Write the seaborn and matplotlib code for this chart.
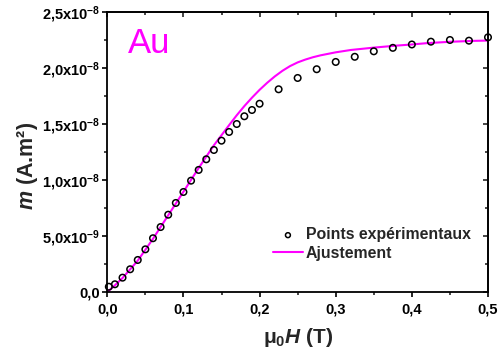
import numpy as np
import pandas as pd
import matplotlib
matplotlib.use('Agg')
import matplotlib.pyplot as plt
from matplotlib.ticker import FixedLocator, FixedFormatter, MultipleLocator
import seaborn as sns

# experimental points (mu0H in T, m in 1e-8 A.m2)
field_pts = [0.002, 0.01, 0.02, 0.03, 0.04, 0.05, 0.06, 0.07, 0.08, 0.09, 0.10,
             0.11, 0.12, 0.13, 0.14, 0.15, 0.16, 0.17, 0.18, 0.19, 0.20,
             0.225, 0.25, 0.275, 0.30, 0.325, 0.35, 0.375, 0.40, 0.425, 0.45, 0.475, 0.50]
moment_pts = [0.047, 0.069, 0.128, 0.203, 0.286, 0.381, 0.480, 0.580, 0.690, 0.795, 0.893,
              0.994, 1.090, 1.185, 1.268, 1.351, 1.429, 1.500, 1.569, 1.625, 1.681,
              1.810, 1.911, 1.989, 2.054, 2.100, 2.149, 2.180, 2.210, 2.235, 2.250, 2.244, 2.274]

# fitted curve
field_fit = [0.0, 0.01, 0.02, 0.04, 0.06, 0.08, 0.10, 0.12, 0.14, 0.16, 0.17, 0.18, 0.19,
             0.20, 0.21, 0.22, 0.23, 0.24, 0.25, 0.26, 0.27, 0.28, 0.30, 0.32, 0.35,
             0.38, 0.40, 0.42, 0.45, 0.48, 0.50]
moment_fit = [0.0, 0.06, 0.125, 0.28, 0.475, 0.685, 0.895, 1.107, 1.31, 1.49, 1.578, 1.66, 1.735,
              1.805, 1.868, 1.925, 1.975, 2.017, 2.050, 2.075, 2.096, 2.113, 2.140, 2.161, 2.182,
              2.200, 2.210, 2.222, 2.234, 2.242, 2.245]

x_ticks = [0.0, 0.1, 0.2, 0.3, 0.4, 0.5]
x_ticklabels = ['0,0', '0,1', '0,2', '0,3', '0,4', '0,5']
y_ticks = [0.0, 0.5e-8, 1.0e-8, 1.5e-8, 2.0e-8, 2.5e-8]
y_ticklabels = ['0,0', r'5,0x10$^{-9}$', r'1,0x10$^{-8}$', r'1,5x10$^{-8}$',
                r'2,0x10$^{-8}$', r'2,5x10$^{-8}$']

pts = pd.DataFrame({'H': field_pts, 'm': np.array(moment_pts) * 1e-8})
fit = pd.DataFrame({'H': field_fit, 'm': np.array(moment_fit) * 1e-8})

sns.set_style('ticks')
plt.rcParams['font.family'] = ['Liberation Sans', 'DejaVu Sans']
plt.rcParams['font.weight'] = 'bold'
plt.rcParams['mathtext.fontset'] = 'custom'
plt.rcParams['mathtext.rm'] = 'Liberation Sans:bold'
plt.rcParams['mathtext.it'] = 'Liberation Sans:bold:italic'
plt.rcParams['mathtext.bf'] = 'Liberation Sans:bold'

fig = plt.figure(figsize=(5.03, 3.61), dpi=100)
ax = fig.add_axes([107.3 / 503, 69 / 361, 380.7 / 503, 280 / 361])

sns.scatterplot(data=pts, x='H', y='m', ax=ax, marker='o', s=22, facecolor='none',
                edgecolor='black', linewidth=1.1, label='Points expérimentaux', zorder=3,
                clip_on=False)
sns.lineplot(data=fit, x='H', y='m', ax=ax, color='#ff00ff', linewidth=1.5,
             label='Ajustement', zorder=2)

ax.set_xlim(0, 0.5)
ax.set_ylim(0, 2.5e-8)
ax.xaxis.set_major_locator(FixedLocator(x_ticks))
ax.xaxis.set_major_formatter(FixedFormatter(x_ticklabels))
ax.xaxis.set_minor_locator(MultipleLocator(0.05))
ax.yaxis.set_major_locator(FixedLocator(y_ticks))
ax.yaxis.set_major_formatter(FixedFormatter(y_ticklabels))
ax.yaxis.set_minor_locator(MultipleLocator(0.25e-8))

for sp in ax.spines.values():
    sp.set_visible(True)
    sp.set_linewidth(1.3)
    sp.set_color('black')

ax.tick_params(which='major', direction='out', length=3.3, width=1.2, labelsize=10.5,
               colors='black')
ax.tick_params(which='minor', direction='out', length=2.0, width=1.2)
ax.tick_params(axis='x', pad=4)
ax.tick_params(axis='y', pad=2)

# mirrored ticks pointing inward on top and right
top = ax.secondary_xaxis('top')
top.xaxis.set_major_locator(FixedLocator(x_ticks))
top.xaxis.set_minor_locator(MultipleLocator(0.05))
top.tick_params(which='major', direction='in', length=3.3, width=1.2, labeltop=False)
top.tick_params(which='minor', direction='in', length=2.0, width=1.2)
top.spines['top'].set_linewidth(1.3)
right = ax.secondary_yaxis('right')
right.yaxis.set_major_locator(FixedLocator(y_ticks))
right.yaxis.set_minor_locator(MultipleLocator(0.25e-8))
right.tick_params(which='major', direction='in', length=3.3, width=1.2, labelright=False)
right.tick_params(which='minor', direction='in', length=2.0, width=1.2)
right.spines['right'].set_linewidth(1.3)

ax.set_xlabel(r'μ$_0$$H$ (T)', fontsize=15, fontweight='bold', labelpad=7)
ax.set_ylabel(r'$m$ (A.m²)', fontsize=15.5, fontweight='bold')
ax.yaxis.set_label_coords(-0.178, 0.45)

ax.text(0.055, 0.853, 'Au', transform=ax.transAxes, color='#ff00ff', fontsize=25,
        fontweight='normal', va='baseline', ha='left')

ax.legend(loc='upper left', bbox_to_anchor=(0.436, 0.231), frameon=False,
          borderpad=0, borderaxespad=0, handlelength=1.85, handletextpad=0.2,
          labelspacing=0.23, markerscale=0.75, prop={'weight': 'bold', 'size': 11.4})

fig.savefig('out.png', dpi=100)
